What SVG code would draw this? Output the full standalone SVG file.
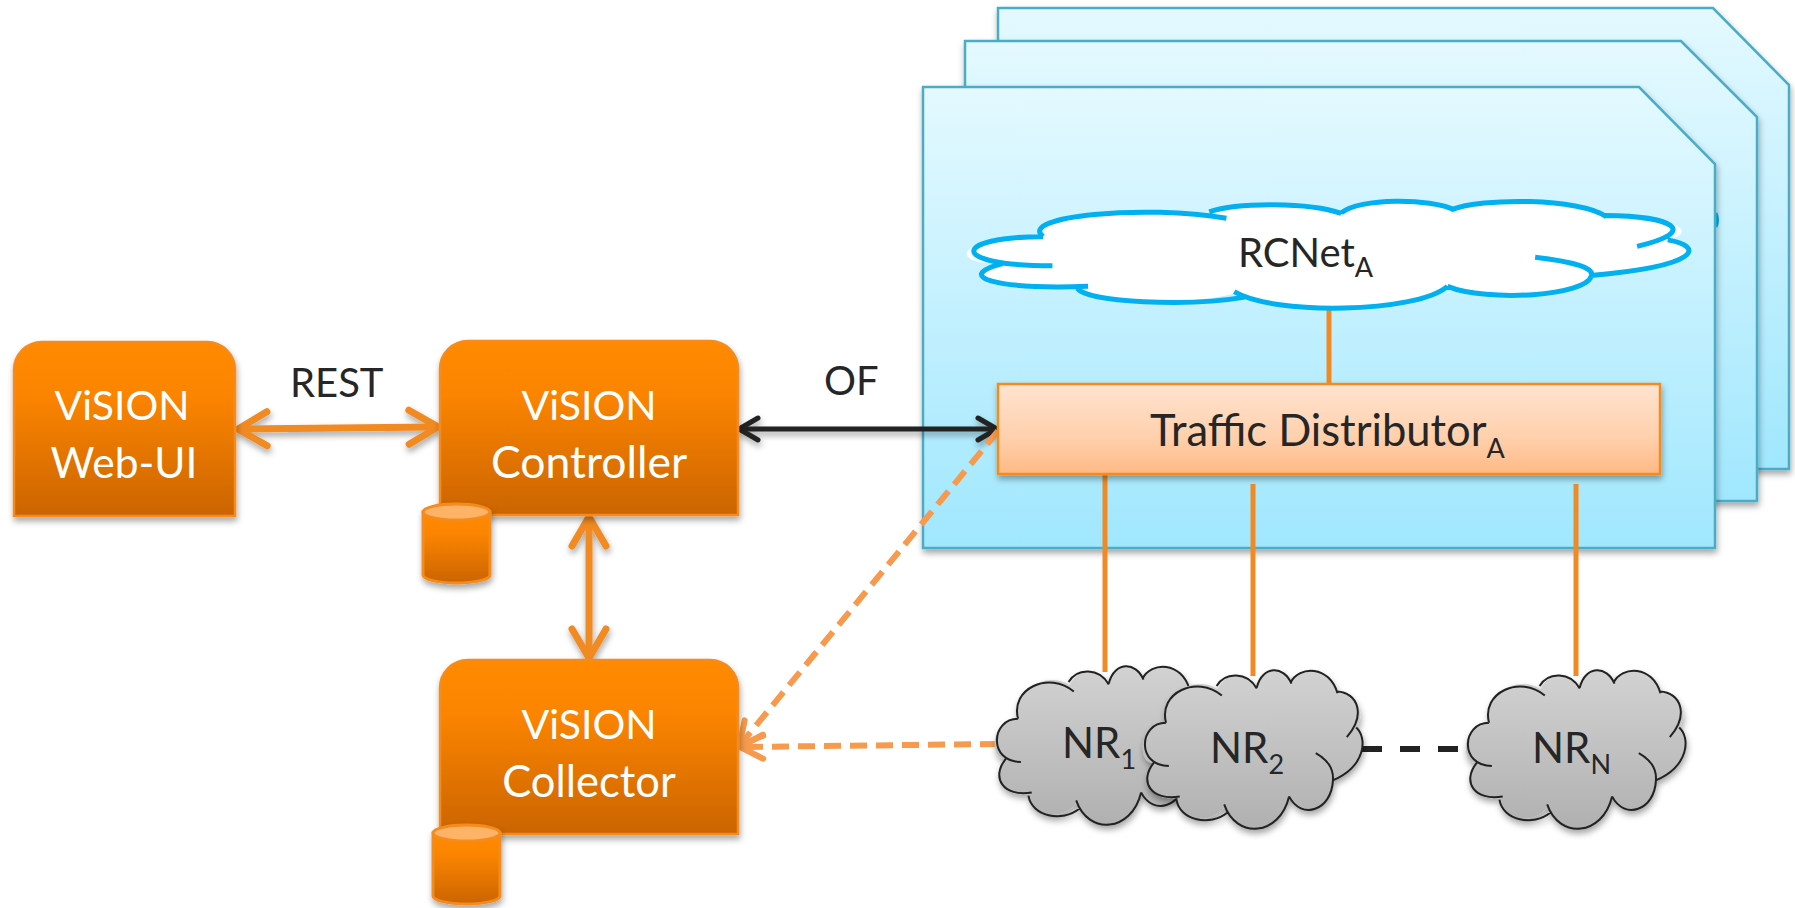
<svg xmlns="http://www.w3.org/2000/svg" xmlns:xlink="http://www.w3.org/1999/xlink" width="1795" height="908" viewBox="0 0 1795 908">
<style>
text{font-family:Lato,"Liberation Sans",sans-serif;}
.lbl{font-size:40px;fill:#262626;}
.nr{font-size:42px;fill:#262626;}
.wht{font-size:41px;fill:#fff;text-anchor:middle;}
.sub{font-size:27px;}
.panel{fill:url(#gPanel);stroke:#4BACC6;stroke-width:2.5;}
.box{fill:url(#gOrange);stroke:#F58B1F;stroke-width:2.5;}
.can{fill:url(#gOrange);stroke:#F58B1F;stroke-width:3;}
.cantop{fill:#FFB366;stroke:#F58B1F;stroke-width:3;}
.ln{fill:none;stroke:#F28A24;stroke-width:5;}
.dbl{fill:none;stroke:#F28A24;stroke-width:7;marker-start:url(#hOrange);marker-end:url(#hOrange);}
.blk{fill:none;stroke:#222;stroke-width:5;marker-start:url(#hBlack);marker-end:url(#hBlack);}
.dsh{fill:none;stroke:#F79A4D;stroke-width:6;stroke-dasharray:17 9;marker-end:url(#hDash);}
.dblack{fill:none;stroke:#222;stroke-width:6;stroke-dasharray:20 18;}
.cf{stroke:none;}
.cs{fill:none;vector-effect:non-scaling-stroke;stroke-linecap:butt;}
</style>
<defs>
<linearGradient id="gPanel" x1="0" y1="0" x2="0" y2="1"><stop offset="0" stop-color="#E4F9FF"/><stop offset="1" stop-color="#A0E7FE"/></linearGradient>
<linearGradient id="gOrange" x1="0" y1="0" x2="0" y2="1"><stop offset="0" stop-color="#FF8A00"/><stop offset="0.3" stop-color="#FC8500"/><stop offset="1" stop-color="#CB6400"/></linearGradient>
<linearGradient id="gTD" x1="0" y1="0" x2="0" y2="1"><stop offset="0" stop-color="#FFE3D0"/><stop offset="0.6" stop-color="#FFD0AC"/><stop offset="1" stop-color="#FFB985"/></linearGradient>
<linearGradient id="gGrey" gradientUnits="userSpaceOnUse" x1="0" y1="0" x2="0" y2="100"><stop offset="0" stop-color="#D2D2D2"/><stop offset="1" stop-color="#B0B0B0"/></linearGradient>
<filter id="sh" filterUnits="userSpaceOnUse" x="0" y="0" width="1795" height="908"><feDropShadow dx="1" dy="4" stdDeviation="3" flood-color="#000" flood-opacity="0.35"/></filter>
<marker id="hOrange" markerUnits="userSpaceOnUse" markerWidth="60" markerHeight="60" viewBox="-50 -30 60 60" refX="-6" refY="0" orient="auto-start-reverse"><path d="M-30,-17 L-1,0 L-30,17" fill="none" stroke="#F28A24" stroke-width="7" stroke-linecap="round" stroke-linejoin="miter"/></marker>
<marker id="hBlack" markerUnits="userSpaceOnUse" markerWidth="40" markerHeight="40" viewBox="-30 -20 40 40" refX="-4" refY="0" orient="auto-start-reverse"><path d="M-20,-11 L-1,0 L-20,11" fill="none" stroke="#222" stroke-width="5" stroke-linecap="round"/></marker>
<marker id="hDash" markerUnits="userSpaceOnUse" markerWidth="50" markerHeight="50" viewBox="-35 -25 50 50" refX="-2" refY="0" orient="auto"><path d="M-24,-12 L-1,0 L-24,12" fill="none" stroke="#F79A4D" stroke-width="6" stroke-linecap="round"/></marker>
<path id="cloudFill" d="M9.7,33 C6,14 24,3 33.5,12 C37,1 47,1 51.5,10 C54,-3 64,-3 67,8 C71,-3 85,-3 88.5,14 C98,14 102,28 97.3,36 C102.5,42 102,60 86.6,69 C86,88 72,94 66.4,79 C62,104 42,106 37,85 C30,98 16,94 15,80 C3,82 -3,70 4.5,58 C-4,60 -3,33 9.7,33Z"/>
<path id="cloudLines" class="cs" d="M9.7,33 C6,14 24,3 35.4,16 M33,10 C37,1 47,1 51.5,11.5 M51.5,11 C54,-3 64,-3 67.5,8.5 M67,8 C71,-3 85,-3 88.7,14.5 M88.5,13.5 C98,14 102,28 93,42 M97.3,36 C102.5,42 102,60 86.5,69 M78.7,52 C84,56 87,62 86.6,69 C86,88 72,94 66.4,79 M66.4,79 C62,104 42,106 36.5,84 M38,89 C30,98 16,94 14.5,81 M16,79 C3,82 -3,70 4,58 M11,60 C-4,60 -3,33 9.7,33"/>
</defs>

<g id="panel-back" filter="url(#sh)"><path class="panel" d="M998,8 H1713 L1789,85 V469 H998Z"/></g>
<g id="panel-middle" filter="url(#sh)"><path class="panel" d="M965,41 H1681 L1757,117 V501 H965Z"/><path d="M1716,213 Q1719,220 1716,227" fill="none" stroke="#00B0F0" stroke-width="3"/></g>
<g id="panel-front" filter="url(#sh)"><path class="panel" d="M923,87 H1639 L1715,164 V548 H923Z"/></g>

<g id="connectors">
<path class="ln" d="M1329,308 V385"/>
<path class="ln" d="M1105,474 V672"/>
<path class="ln" d="M1253,484 V676"/>
<path class="ln" d="M1576,484 V676"/>
<g filter="url(#sh)"><path class="dbl" d="M243,429 L433,427"/></g>
<g filter="url(#sh)"><path class="dbl" d="M589,522 V653"/></g>
<g filter="url(#sh)"><path class="blk" d="M742,429 H994"/></g>
<path class="dblack" d="M1362,749 H1460"/>
<path class="dsh" d="M997,744 L741,747"/>
<path class="dsh" d="M998,431 L740,745"/>
</g>

<g id="node-rcnet">
<g transform="translate(974,201) scale(7.13,1.08)"><use xlink:href="#cloudFill" class="cf" fill="#fff"/><use xlink:href="#cloudLines" stroke="#00B0F0" stroke-width="5"/></g>
<text class="lbl" x="1238" y="267">RCNet<tspan class="sub" dy="10">A</tspan></text>
</g>

<g id="node-traffic-distributor">
<rect x="998" y="384" width="662" height="90" fill="url(#gTD)" stroke="#F58B1F" stroke-width="2.5" filter="url(#sh)"/>
<text class="lbl" x="1150" y="446" style="font-size:43.500px">Traffic Distributor<tspan class="sub" dy="12">A</tspan></text>
</g>

<g id="node-webui">
<path class="box" filter="url(#sh)" d="M14,516 V370 A28,28 0 0 1 42,342 H207 A28,28 0 0 1 235,370 V516Z"/>
<text class="wht" x="122" y="420">ViSION</text><text class="wht" x="124" y="478" style="font-size:42.500px">Web-UI</text>
</g>
<g id="node-controller">
<path class="box" filter="url(#sh)" d="M440,515 V369 A28,28 0 0 1 468,341 H710 A28,28 0 0 1 738,369 V515Z"/>
<text class="wht" x="589" y="420">ViSION</text><text class="wht" x="589" y="478" style="font-size:44.500px">Controller</text>
</g>
<g id="db-controller" filter="url(#sh)">
<path class="can" d="M423,512 V575 A33.5,8 0 0 0 490,575 V512Z"/><ellipse class="cantop" cx="456.500" cy="512" rx="33.500" ry="8"/>
</g>
<g id="node-collector">
<path class="box" filter="url(#sh)" d="M440,834 V688 A28,28 0 0 1 468,660 H710 A28,28 0 0 1 738,688 V834Z"/>
<text class="wht" x="589" y="739">ViSION</text><text class="wht" x="589" y="797" style="font-size:43.500px">Collector</text>
</g>
<g id="db-collector" filter="url(#sh)">
<path class="can" d="M433,833 V896 A33.5,8 0 0 0 500,896 V833Z"/><ellipse class="cantop" cx="466.500" cy="833" rx="33.500" ry="8"/>
</g>

<g id="node-nr1">
<g filter="url(#sh)"><g transform="translate(997,666) scale(2.17,1.6)"><use xlink:href="#cloudFill" class="cf" fill="url(#gGrey)"/><use xlink:href="#cloudLines" stroke="#222" stroke-width="2"/></g></g>
<text class="nr" x="1062" y="758">NR<tspan class="sub" dy="11">1</tspan></text>
</g>
<g id="node-nr2">
<g filter="url(#sh)"><g transform="translate(1145,670) scale(2.17,1.6)"><use xlink:href="#cloudFill" class="cf" fill="url(#gGrey)"/><use xlink:href="#cloudLines" stroke="#222" stroke-width="2"/></g></g>
<text class="nr" x="1210" y="763">NR<tspan class="sub" dy="11">2</tspan></text>
</g>
<g id="node-nrn">
<g filter="url(#sh)"><g transform="translate(1468,670) scale(2.17,1.6)"><use xlink:href="#cloudFill" class="cf" fill="url(#gGrey)"/><use xlink:href="#cloudLines" stroke="#222" stroke-width="2"/></g></g>
<text class="nr" x="1532" y="763">NR<tspan class="sub" dy="11">N</tspan></text>
</g>

<text class="lbl" x="290" y="397">REST</text>
<text class="lbl" x="824" y="395">OF</text>
</svg>
